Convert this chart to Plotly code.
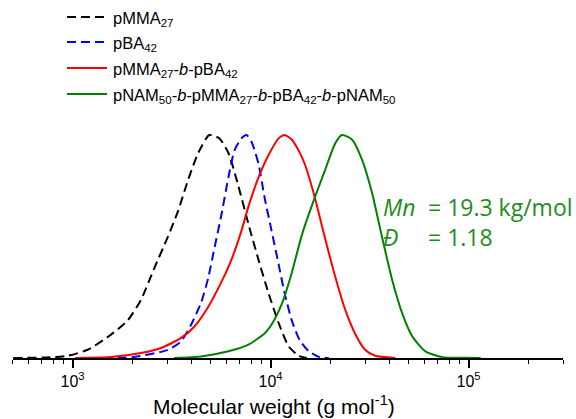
import plotly.graph_objects as go

# Molecular weight (g/mol) and normalized signal
mw_pmma = [502, 773, 944, 1192, 1560, 1902, 2214, 2577, 3035, 3412, 3836, 4313, 4902,
           5511, 6122, 6883, 7733, 8693, 9768, 10980, 12340, 13870, 15230]
sig_pmma = [0, 0.003, 0.01, 0.037, 0.104, 0.17, 0.26, 0.40, 0.545, 0.66, 0.80, 0.92, 1.0,
            0.985, 0.92, 0.77, 0.60, 0.44, 0.29, 0.157, 0.052, 0.01, 0]

mw_pba = [1035, 2040, 3035, 3533, 3972, 4465, 4846, 5196, 5640, 6122, 6565, 7125, 7552,
          8009, 8693, 9322, 10120, 10980, 11780, 12780, 14030, 15590, 17520, 19700]
sig_pba = [0, 0.005, 0.037, 0.075, 0.15, 0.25, 0.36, 0.49, 0.64, 0.81, 0.93, 0.985, 1.0,
           0.97, 0.87, 0.72, 0.57, 0.42, 0.29, 0.17, 0.08, 0.03, 0.005, 0]

mw_di = [1035, 1560, 2214, 2797, 3533, 4114, 4846, 5640, 6339, 7125, 7733, 8693, 9768,
         10980, 11780, 12780, 13870, 14880, 16730, 18800, 21130, 23750, 26690, 30010, 33730, 42600]
sig_di = [0, 0.004, 0.022, 0.045, 0.09, 0.14, 0.23, 0.34, 0.44, 0.57, 0.68, 0.81, 0.91,
          0.985, 1.0, 0.98, 0.93, 0.87, 0.72, 0.54, 0.37, 0.22, 0.11, 0.037, 0.01, 0]

mw_tetra = [3256, 4465, 6122, 7733, 9322, 10120, 11370, 12780, 14370, 16730, 18800, 21130,
            22930, 25770, 28960, 32560, 36600, 41140, 46240, 51960, 60480, 73790, 93220, 115100]
sig_tetra = [0, 0.007, 0.03, 0.06, 0.11, 0.15, 0.24, 0.38, 0.55, 0.72, 0.84, 0.96,
             1.0, 0.98, 0.89, 0.74, 0.54, 0.35, 0.20, 0.097, 0.03, 0.004, 0.001, 0]

names = [
    "pMMA<sub>27</sub>",
    "pBA<sub>42</sub>",
    "pMMA<sub>27</sub>-<i>b</i>-pBA<sub>42</sub>",
    "pNAM<sub>50</sub>-<i>b</i>-pMMA<sub>27</sub>-<i>b</i>-pBA<sub>42</sub>-<i>b</i>-pNAM<sub>50</sub>",
]
tick_vals = [1000, 10000, 100000]
tick_text = ["10<sup>3</sup>", "10<sup>4</sup>", "10<sup>5</sup>"]
minor_vals = [500, 600, 700, 800, 900, 2000, 3000, 4000, 5000, 6000, 7000, 8000, 9000,
              20000, 30000, 40000, 50000, 60000, 70000, 80000, 90000, 200000, 300000]
x_title = "Molecular weight (g mol<sup>-1</sup>)"

series = [
    (mw_pmma, sig_pmma, "black", "9px,5px"),
    (mw_pba, sig_pba, "#0000ff", "9px,5px"),
    (mw_di, sig_di, "#ff0000", "solid"),
    (mw_tetra, sig_tetra, "#008000", "solid"),
]

W, H = 576, 419
ML, MR, MT, MB = 13, 13, 10, 61
PW, PH = W - ML - MR, H - MT - MB


def px(x):
    return (x - ML) / PW


def py(y):
    return (H - MB - y) / PH


fig = go.Figure()
for (x, y, c, d), n in zip(series, names):
    fig.add_trace(go.Scatter(x=x, y=y, mode="lines", name=n, showlegend=False,
                             line=dict(color=c, width=2, dash=d, shape="spline", smoothing=0.6)))

# legend drawn as samples + labels
legend_rows = [17, 42, 68, 94]
for (x, y, c, d), n, ry in zip(series, names, legend_rows):
    fig.add_shape(type="line", xref="paper", yref="paper",
                  x0=px(67), x1=px(107), y0=py(ry), y1=py(ry),
                  line=dict(color=c, width=2, dash=d))
    fig.add_annotation(xref="paper", yref="paper", x=px(111), y=py(ry + 2),
                       xanchor="left", yanchor="middle", text=n, showarrow=False,
                       font=dict(size=16.5, color="black"))

green = "#1e8c1e"
afont = dict(family="Open Sans", size=23, color=green)
fig.add_annotation(xref="paper", yref="paper", x=px(381), y=py(207), xanchor="left",
                   yanchor="middle", text="<i>Mn</i>", showarrow=False, font=afont)
fig.add_annotation(xref="paper", yref="paper", x=px(426), y=py(207), xanchor="left",
                   yanchor="middle", text="= 19.3 kg/mol", showarrow=False, font=afont)
fig.add_annotation(xref="paper", yref="paper", x=px(381), y=py(237), xanchor="left",
                   yanchor="middle", text="<i>Đ</i>", showarrow=False, font=afont)
fig.add_annotation(xref="paper", yref="paper", x=px(426), y=py(237), xanchor="left",
                   yanchor="middle", text="= 1.18", showarrow=False, font=afont)

# x-axis title
fig.add_annotation(xref="paper", yref="paper", x=px(274), y=py(405), xanchor="center",
                   yanchor="middle", text=x_title, showarrow=False,
                   font=dict(size=21, color="black"))

fig.update_layout(
    width=W, height=H,
    margin=dict(l=ML, r=MR, t=MT, b=MB, autoexpand=False),
    paper_bgcolor="white", plot_bgcolor="white",
    font=dict(family="Liberation Sans, Arial", color="black"),
    showlegend=False,
    xaxis=dict(type="log", range=[2.699, 5.477], automargin=False,
               tickvals=tick_vals, ticktext=tick_text,
               ticks="outside", ticklen=8, tickwidth=1.5, tickcolor="black",
               minor=dict(tickvals=minor_vals, ticks="outside", ticklen=4,
                          tickwidth=1, tickcolor="black"),
               showline=True, linecolor="black", linewidth=2,
               showgrid=False, zeroline=False,
               tickfont=dict(size=16)),
    yaxis=dict(range=[0, PH / 223], visible=False, showgrid=False, zeroline=False),
)

fig.write_html("out.html", config={"displayModeBar": False},
               post_script="document.body.style.margin='0';")
